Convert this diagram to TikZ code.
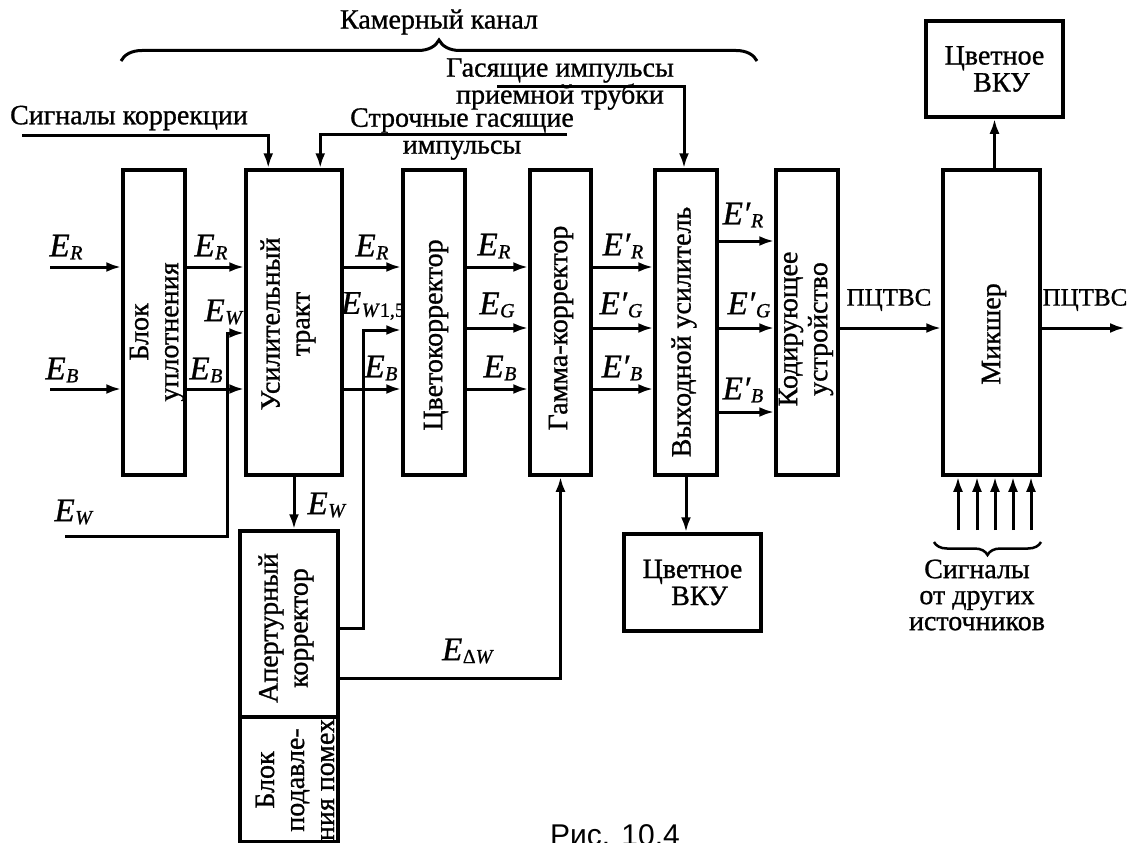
\documentclass[tikz,border=0pt]{standalone}
\usepackage{fontspec}
\setmainfont{Liberation Serif}[FakeBold=0.9]
\newfontfamily\capfont{Liberation Sans}
\usetikzlibrary{arrows.meta,decorations.pathreplacing}
\newcommand\txtfont{\fontsize{28}{30}\selectfont}
\newcommand\hfont{\fontsize{28}{25}\selectfont}
\newcommand\bfnt{\fontsize{28}{27}\selectfont}
\newcommand\pfont{\fontsize{25}{25}\selectfont}
\newcommand\Efont{\fontsize{33}{35}\selectfont}
\newcommand\subf{\fontsize{20}{20}\selectfont}
\newcommand\Sig[2]{{\Efont\textit{E#1}\kern0.5pt\raisebox{-3pt}{\subf #2}}}
\begin{document}
\begin{tikzpicture}[x=1pt,y=1pt,
  box/.style={draw, line width=3.5pt, inner sep=0pt, align=center, font=\bfnt},
  vt/.style={rotate=90, align=center, inner sep=0pt, font=\txtfont},
  ht/.style={align=center, inner sep=0pt, font=\hfont},
  lab/.style={inner sep=0pt},
  arr/.style={line width=3pt, -{Latex[length=15pt,width=10pt]}},
  brc/.style={line width=3pt, decorate}]
\useasboundingbox (0,0) rectangle (1133,-843);

% boxes
\node[box, minimum width=62, minimum height=305] (b1) at (154,-322.5) {};
\node[box, minimum width=96, minimum height=305] (b2) at (294,-322.5) {};
\node[box, minimum width=62, minimum height=305] (b3) at (434,-322.5) {};
\node[box, minimum width=61, minimum height=305] (b4) at (560.5,-322.5) {};
\node[box, minimum width=62, minimum height=305] (b5) at (686,-322.5) {};
\node[box, minimum width=62, minimum height=305] (b6) at (807,-322.5) {};
\node[box, minimum width=97, minimum height=305] (b7) at (991.5,-322.5) {};
\node[box, minimum width=137, minimum height=96] (vku1) at (994.5,-69) {Цветное\\\ \ ВКУ};
\node[box, minimum width=137, minimum height=97] (vku2) at (692.5,-582.5) {Цветное\\\ \ ВКУ};
\node[box, minimum width=98, minimum height=186] (ak) at (289,-624) {};
\node[box, minimum width=98, minimum height=125] (bp) at (289,-779.5) {};

% rotated box texts
\node[vt] (t1) at (157,-332) {Блок\\уплотнения};
\node[vt] (t2) at (288,-324) {Усилительный\\тракт};
\node[vt] (t3) at (436,-335) {Цветокорректор};
\node[vt] (t4) at (561,-328) {Гамма-корректор};
\node[vt] (t5) at (684,-332) {Выходной усилитель};
\node[vt] (t6) at (806,-329) {Кодирующее\\устройство};
\node[vt] (t7) at (994,-334) {Микшер};
\node[vt] (tak) at (286,-628) {Апертурный\\корректор};
\node[vt] (tbp) at (295,-780) {Блок\\подавле-\\ния помех};

% levels
\coordinate (inR) at (50,-267);
\coordinate (inB) at (50,-389);
\coordinate (yG) at (0,-328);
\coordinate (yR5) at (0,-241);
\coordinate (yB5) at (0,-412);
\coordinate (inW) at (65,-536);
\coordinate (kW) at (227,-333);
\coordinate (kW15) at (363,-330);
\coordinate (a1) at (0,-628);
\coordinate (a2) at (0,-678);
\coordinate (out) at (1125,-328);

% signal arrows
\draw[arr] (inR) -- (inR -| b1.west);
\draw[arr] (inB) -- (inB -| b1.west);
\draw[arr] (b1.east |- inR) -- (b2.west |- inR);
\draw[arr] (b1.east |- inB) -- (b2.west |- inB);
\draw[arr] (inW) -| (kW) -- (kW -| b2.west);
\draw[arr] (b2.east |- inR) -- (b3.west |- inR);
\draw[arr] (b2.east |- inB) -- (b3.west |- inB);
\draw[arr] (b2.south) -- (b2.south |- ak.north);
\draw[arr] (ak.east |- a1) -| (kW15) -- (kW15 -| b3.west);
\draw[arr] (ak.east |- a2) -| (b4.south);
\draw[arr] (b3.east |- inR) -- (b4.west |- inR);
\draw[arr] (b3.east |- yG) -- (b4.west |- yG);
\draw[arr] (b3.east |- inB) -- (b4.west |- inB);
\draw[arr] (b4.east |- inR) -- (b5.west |- inR);
\draw[arr] (b4.east |- yG) -- (b5.west |- yG);
\draw[arr] (b4.east |- inB) -- (b5.west |- inB);
\draw[arr] (b5.east |- yR5) -- (b6.west |- yR5);
\draw[arr] (b5.east |- yG) -- (b6.west |- yG);
\draw[arr] (b5.east |- yB5) -- (b6.west |- yB5);
\draw[arr] (b6.east |- yG) -- (b7.west |- yG);
\draw[arr] (b7.east |- yG) -- (out);
\draw[arr] (b7.north -| vku1.south) -- (vku1.south);
\draw[arr] (b5.south) -- (b5.south |- vku2.north);
\foreach \x [count=\i] in {958,977,995,1013,1031} {
  \coordinate (m\i) at (\x,-530);
  \draw[arr] (m\i) -- (m\i |- b7.south);
}

% control inputs at the top
\coordinate (sk) at (22,-135);
\coordinate (sg) at (567,-134);
\coordinate (gi) at (497,-87);
\draw[arr] (sk) -| ([xshift=24pt]b2.north west);
\draw[arr] (sg) -| ([xshift=76pt]b2.north west);
\draw[arr] (gi) -| ([xshift=-2pt]b5.north);

% braces
\coordinate (bl) at (121,-61);
\coordinate (br) at (757,-61);
\draw[brc, decoration={brace, amplitude=21pt}] (bl) -- (br);
\coordinate (sl) at (934,-542);
\coordinate (sr) at (1041,-542);
\draw[brc, line width=2.5pt, decoration={brace, amplitude=13pt}] (sr) -- (sl);

% texts
\node[ht] (tk) at (439,-22) {Камерный канал};
\node[ht] (tsk) at (129,-118) {Сигналы коррекции};
\node[ht, font=\bfnt] (tsg) at (462,-134) {Строчные гасящие\\импульсы};
\node[ht, font=\bfnt] (tgi) at (560,-84) {Гасящие импульсы\\приемной трубки};
\node[ht, font=\pfont] (p1) at (889,-300) {ПЦТВС};
\node[ht, font=\pfont] (p2) at (1085,-300) {ПЦТВС};
\node[ht, font=\fontsize{28}{26}\selectfont] (tsig) at (977,-595) {Сигналы\\от других\\источников};
\node[inner sep=0pt, anchor=base, font=\capfont\fontsize{30}{32}\selectfont] (cap) at (615,-845) {Рис. 10.4};

% signal labels
\node[lab] (l1) at (66,-247) {\Sig{}{\textit{R}}};
\node[lab] (l2) at (62,-370) {\Sig{}{\textit{B}}};
\node[lab] (l3) at (211,-247) {\Sig{}{\textit{R}}};
\node[lab] (l4) at (224,-312) {\Sig{}{\textit{W}}};
\node[lab] (l5) at (206,-370) {\Sig{}{\textit{B}}};
\node[lab] (l6) at (372,-247) {\Sig{}{\textit{R}}};
\node[lab] (l7) at (373,-306) {\Sig{}{\textit{W}1,5}};
\node[lab] (l8) at (381,-368) {\Sig{}{\textit{B}}};
\node[lab] (l9) at (494,-246) {\Sig{}{\textit{R}}};
\node[lab] (l10) at (497,-305) {\Sig{}{\textit{G}}};
\node[lab] (l11) at (500,-368) {\Sig{}{\textit{B}}};
\node[lab] (l12) at (623,-246) {\Sig{′}{\textit{R}}};
\node[lab] (l13) at (621,-305) {\Sig{′}{\textit{G}}};
\node[lab] (l14) at (622,-368) {\Sig{′}{\textit{B}}};
\node[lab] (l15) at (743,-215) {\Sig{′}{\textit{R}}};
\node[lab] (l16) at (749,-305) {\Sig{′}{\textit{G}}};
\node[lab] (l17) at (743,-390) {\Sig{′}{\textit{B}}};
\node[lab] (l18) at (74,-512) {\Sig{}{\textit{W}}};
\node[lab] (l19) at (327,-505) {\Sig{}{\textit{W}}};
\node[lab] (l20) at (468,-651) {\Sig{}{Δ\textit{W}}};
\end{tikzpicture}
\end{document}
